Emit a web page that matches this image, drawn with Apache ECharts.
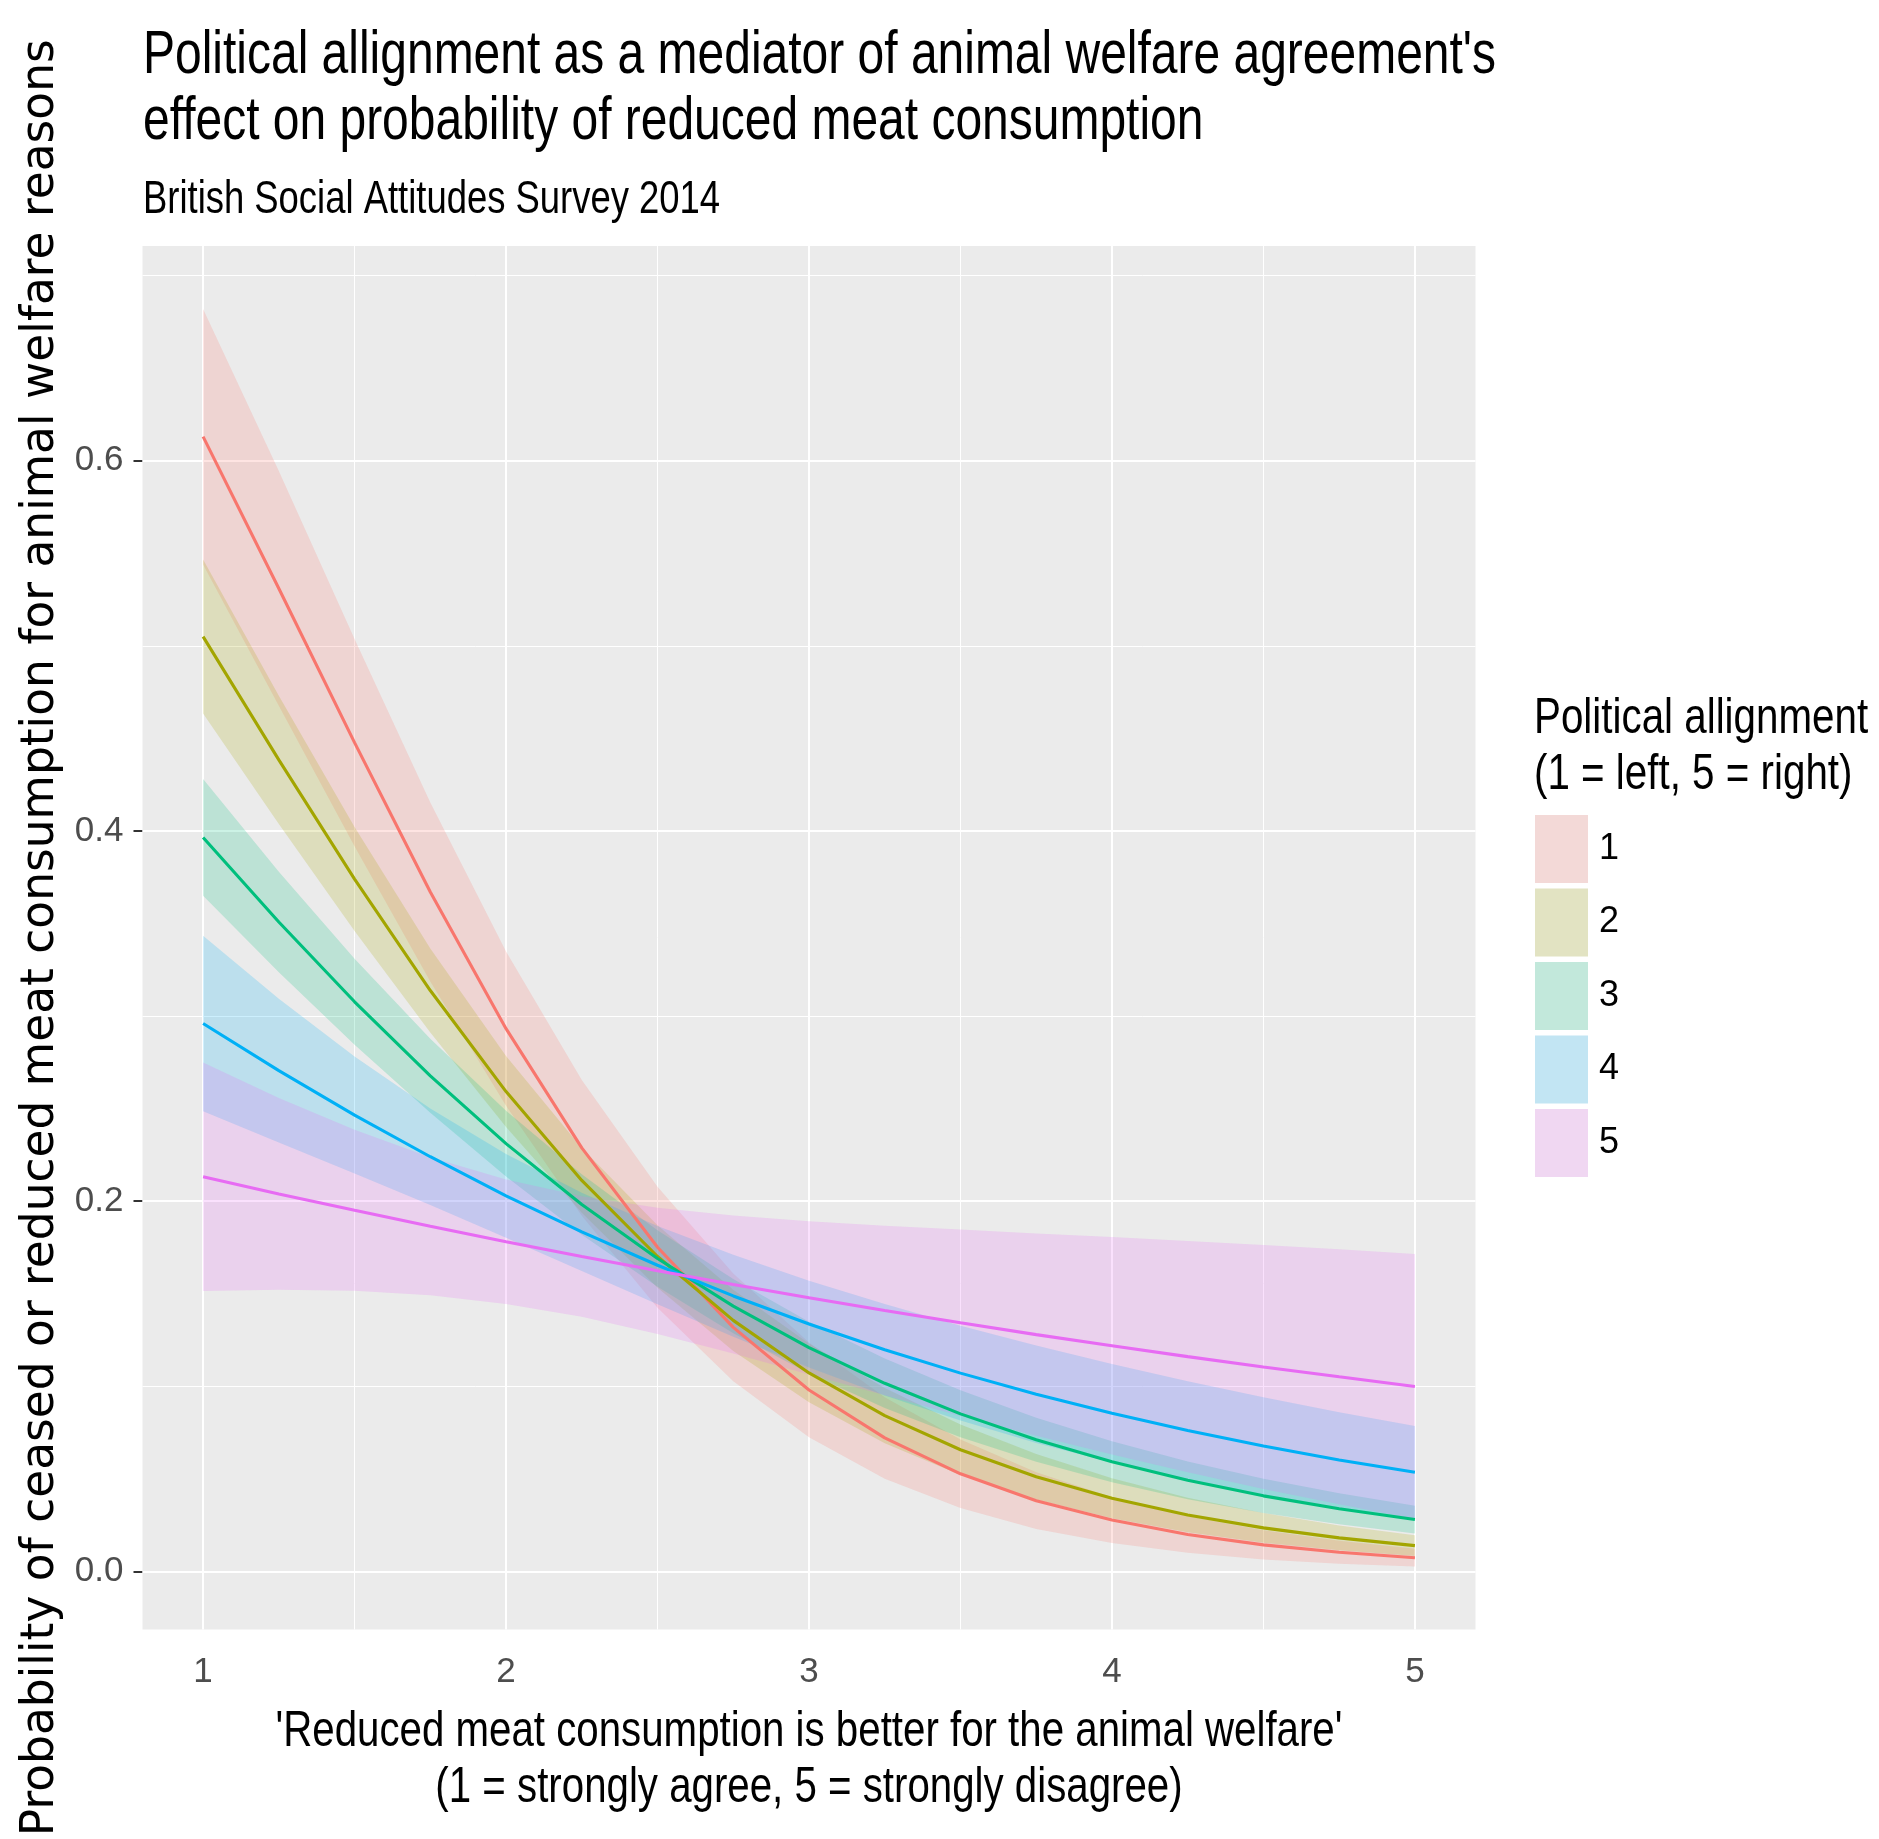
<!DOCTYPE html>
<html>
<head>
<meta charset="utf-8">
<script src="https://cdn.jsdelivr.net/npm/echarts@6/dist/echarts.min.js"></script>
<style>
html,body{margin:0;padding:0;background:#ffffff;}
#chart{width:1879px;height:1839px;}
</style>
</head>
<body>
<div id="chart"></div>
<script>
// ---------------- data ----------------
const groupNames = ['1', '2', '3', '4', '5'];
const xValues = [1, 1.25, 1.5, 1.75, 2, 2.25, 2.5, 2.75, 3, 3.25, 3.5, 3.75, 4, 4.25, 4.5, 4.75, 5];

const fit1   = [0.613, 0.531, 0.4477, 0.367, 0.2932, 0.2288, 0.1751, 0.1318, 0.0980, 0.0721, 0.0527, 0.0382, 0.0277, 0.0199, 0.0143, 0.0103, 0.0074];
const lower1 = [0.544, 0.4676, 0.3917, 0.3187, 0.2515, 0.1921, 0.1424, 0.1027, 0.0724, 0.0501, 0.0342, 0.0229, 0.0153, 0.0100, 0.0064, 0.0041, 0.0026];
const upper1 = [0.682, 0.5944, 0.5037, 0.4153, 0.3349, 0.2655, 0.2078, 0.1609, 0.1236, 0.0941, 0.0712, 0.0535, 0.0401, 0.0298, 0.0222, 0.0165, 0.0122];

const fit2   = [0.505, 0.4384, 0.3740, 0.3138, 0.2592, 0.2112, 0.1701, 0.1356, 0.1072, 0.0841, 0.0657, 0.0511, 0.0395, 0.0305, 0.0235, 0.0181, 0.0139];
const lower2 = [0.4634, 0.4037, 0.3459, 0.2911, 0.2400, 0.1937, 0.1532, 0.1191, 0.0913, 0.0692, 0.0520, 0.0388, 0.0287, 0.0212, 0.0155, 0.0114, 0.0083];
const upper2 = [0.5466, 0.4731, 0.4021, 0.3365, 0.2784, 0.2287, 0.1870, 0.1521, 0.1231, 0.0990, 0.0794, 0.0634, 0.0503, 0.0398, 0.0315, 0.0248, 0.0195];

const fit3   = [0.3965, 0.3508, 0.3077, 0.2677, 0.2311, 0.1982, 0.1690, 0.1433, 0.1209, 0.1016, 0.0851, 0.0711, 0.0592, 0.0492, 0.0408, 0.0338, 0.0280];
const lower3 = [0.3650, 0.3237, 0.2845, 0.2477, 0.2133, 0.1819, 0.1537, 0.1287, 0.1069, 0.0882, 0.0724, 0.0592, 0.0481, 0.0390, 0.0315, 0.0254, 0.0205];
const upper3 = [0.4280, 0.3779, 0.3309, 0.2878, 0.2489, 0.2145, 0.1843, 0.1579, 0.1349, 0.1150, 0.0978, 0.0830, 0.0703, 0.0594, 0.0501, 0.0422, 0.0355];

const fit4   = [0.2960, 0.2705, 0.2465, 0.2240, 0.2029, 0.1834, 0.1654, 0.1488, 0.1336, 0.1197, 0.1071, 0.0957, 0.0854, 0.0761, 0.0677, 0.0602, 0.0535];
const lower4 = [0.2486, 0.2317, 0.2149, 0.1979, 0.1803, 0.1623, 0.1443, 0.1267, 0.1102, 0.0950, 0.0815, 0.0694, 0.0588, 0.0495, 0.0414, 0.0344, 0.0284];
const upper4 = [0.3434, 0.3093, 0.2781, 0.2501, 0.2255, 0.2045, 0.1866, 0.1710, 0.1570, 0.1444, 0.1327, 0.1220, 0.1120, 0.1027, 0.0940, 0.0860, 0.0786];

const fit5   = [0.2132, 0.2039, 0.1951, 0.1864, 0.1781, 0.1701, 0.1624, 0.1550, 0.1478, 0.1409, 0.1343, 0.1279, 0.1219, 0.1160, 0.1104, 0.1051, 0.0999];
const lower5 = [0.1515, 0.1521, 0.1516, 0.1492, 0.1445, 0.1375, 0.1283, 0.1177, 0.1064, 0.0951, 0.0840, 0.0733, 0.0632, 0.0535, 0.0445, 0.0362, 0.0283];
const upper5 = [0.2749, 0.2557, 0.2386, 0.2237, 0.2117, 0.2027, 0.1965, 0.1923, 0.1892, 0.1867, 0.1847, 0.1825, 0.1806, 0.1785, 0.1763, 0.1740, 0.1715];

const xTickValues = [1, 2, 3, 4, 5];
const xMinorGrid = [1.5, 2.5, 3.5, 4.5];
const yTickValues = [0, 0.2, 0.4, 0.6];
const yMinorGrid = [0.1, 0.3, 0.5, 0.7];

const titleLines = ["Political allignment as a mediator of animal welfare agreement's", 'effect on probability of reduced meat consumption'];
const subtitleText = 'British Social Attitudes Survey 2014';
const legendTitleLines = ['Political allignment', '(1 = left, 5 = right)'];
const xNameLines = ["'Reduced meat consumption is better for the animal welfare'", '(1 = strongly agree, 5 = strongly disagree)'];
const yNameText = 'Probability of ceased or reduced meat consumption for animal welfare reasons';

// ---------------- styling ----------------
const lineColors = ['#F8766D', '#A3A500', '#00BF7D', '#00B0F6', '#E76BF3'];
const ribbonColors = ['rgba(248,118,109,0.2)', 'rgba(163,165,0,0.2)', 'rgba(0,191,125,0.2)', 'rgba(0,176,246,0.2)', 'rgba(231,107,243,0.2)'];
const keyColors = ['#F3D9D7', '#E2E3C2', '#C2E8DB', '#C2E5F3', '#F0D7F2'];
const SANS = "'Liberation Sans', Arial, sans-serif";
const WIDE = "'DejaVu Sans', 'Liberation Sans', sans-serif";

const fits = [fit1, fit2, fit3, fit4, fit5];
const lowers = [lower1, lower2, lower3, lower4, lower5];
const uppers = [upper1, upper2, upper3, upper4, upper5];

const chart = echarts.init(document.getElementById('chart'), null, {renderer: 'canvas', width: 1879, height: 1839});

const gridLines = [];
yTickValues.forEach(v => gridLines.push({yAxis: v, lineStyle: {color: '#FFFFFF', width: 2, type: 'solid'}}));
yMinorGrid.forEach(v => gridLines.push({yAxis: v, lineStyle: {color: '#FFFFFF', width: 1, type: 'solid'}}));
xTickValues.forEach(v => gridLines.push({xAxis: v, lineStyle: {color: '#FFFFFF', width: 2, type: 'solid'}}));
xMinorGrid.forEach(v => gridLines.push({xAxis: v, lineStyle: {color: '#FFFFFF', width: 1, type: 'solid'}}));

const series = [];
series.push({
  name: 'grid',
  type: 'line',
  data: [],
  silent: true,
  z: 1,
  markLine: {
    silent: true,
    z: 1,
    animation: false,
    symbol: ['none', 'none'],
    label: {show: false},
    emphasis: {disabled: true},
    data: gridLines
  }
});

groupNames.forEach((g, k) => {
  series.push({
    name: g,
    type: 'custom',
    z: 2,
    silent: true,
    data: [[3, 0.3]],
    encode: {x: 0, y: 1},
    renderItem: function (params, api) {
      const pts = [];
      for (let i = 0; i < xValues.length; i++) pts.push(api.coord([xValues[i], uppers[k][i]]));
      for (let i = xValues.length - 1; i >= 0; i--) pts.push(api.coord([xValues[i], lowers[k][i]]));
      return {type: 'polygon', shape: {points: pts}, style: {fill: ribbonColors[k], stroke: null}};
    }
  });
});

groupNames.forEach((g, k) => {
  series.push({
    name: g,
    type: 'line',
    z: 3,
    silent: true,
    showSymbol: false,
    symbol: 'none',
    smooth: false,
    color: lineColors[k],
    lineStyle: {color: lineColors[k], width: 3.1},
    data: xValues.map((x, i) => [x, fits[k][i]])
  });
});

function condensedText(txt, x, y, size, sx, align) {
  return {
    type: 'text', x: x, y: y, scaleX: sx, silent: true,
    style: {text: txt, fontFamily: SANS, fontSize: size, fill: '#000000', align: align || 'left', verticalAlign: 'middle'}
  };
}

const option = {
  animation: false,
  backgroundColor: '#FFFFFF',
  graphic: [
    condensedText(titleLines[0], 143, 56, 61.5, 0.78),
    condensedText(titleLines[1], 143, 122.5, 61.5, 0.78),
    condensedText(subtitleText, 143, 200, 47, 0.775),
    condensedText(legendTitleLines[0], 1534, 719, 50, 0.807),
    condensedText(legendTitleLines[1], 1534, 775, 50, 0.807),
    condensedText(xNameLines[0], 809, 1732, 50, 0.805, 'center'),
    condensedText(xNameLines[1], 809, 1788, 50, 0.805, 'center')
  ],
  legend: {
    left: 1535, top: 815, orient: 'vertical', padding: 0,
    itemWidth: 53, itemHeight: 68, itemGap: 5.5,
    selectedMode: false,
    textStyle: {fontFamily: SANS, fontSize: 36, color: '#000000', padding: [0, 0, 0, 6]},
    data: groupNames.map((g, k) => ({name: g, icon: 'rect', itemStyle: {color: keyColors[k], borderWidth: 0, opacity: 1}}))
  },
  grid: {
    left: 142.5, top: 246, width: 1333, height: 1383.5,
    show: true, backgroundColor: '#EBEBEB', borderWidth: 0,
    containLabel: false,
    outerBoundsMode: 'none'
  },
  xAxis: {
    type: 'value', min: 0.8, max: 5.2,
    axisLine: {show: false},
    axisTick: {show: true, length: 9, lineStyle: {color: '#333333', width: 2}, customValues: xTickValues},
    axisLabel: {
      customValues: xTickValues, margin: 25,
      fontFamily: SANS, fontSize: 35, color: '#4D4D4D',
      formatter: v => (xTickValues.indexOf(v) >= 0 ? String(v) : '')
    },
    splitLine: {show: false}
  },
  yAxis: {
    type: 'value', min: -0.0314, max: 0.716,
    axisLine: {show: false},
    axisTick: {show: true, length: 9, lineStyle: {color: '#333333', width: 2}, customValues: yTickValues},
    axisLabel: {
      customValues: yTickValues, margin: 19,
      fontFamily: SANS, fontSize: 35, color: '#4D4D4D',
      formatter: v => (yTickValues.some(t => Math.abs(t - v) < 1e-9) ? v.toFixed(1) : '')
    },
    splitLine: {show: false},
    name: yNameText,
    nameLocation: 'middle', nameGap: 57, nameRotate: 90,
    nameTextStyle: {fontFamily: WIDE, fontSize: 45.5, color: '#000000'}
  },
  series: series
};

chart.setOption(option);
</script>
</body>
</html>
